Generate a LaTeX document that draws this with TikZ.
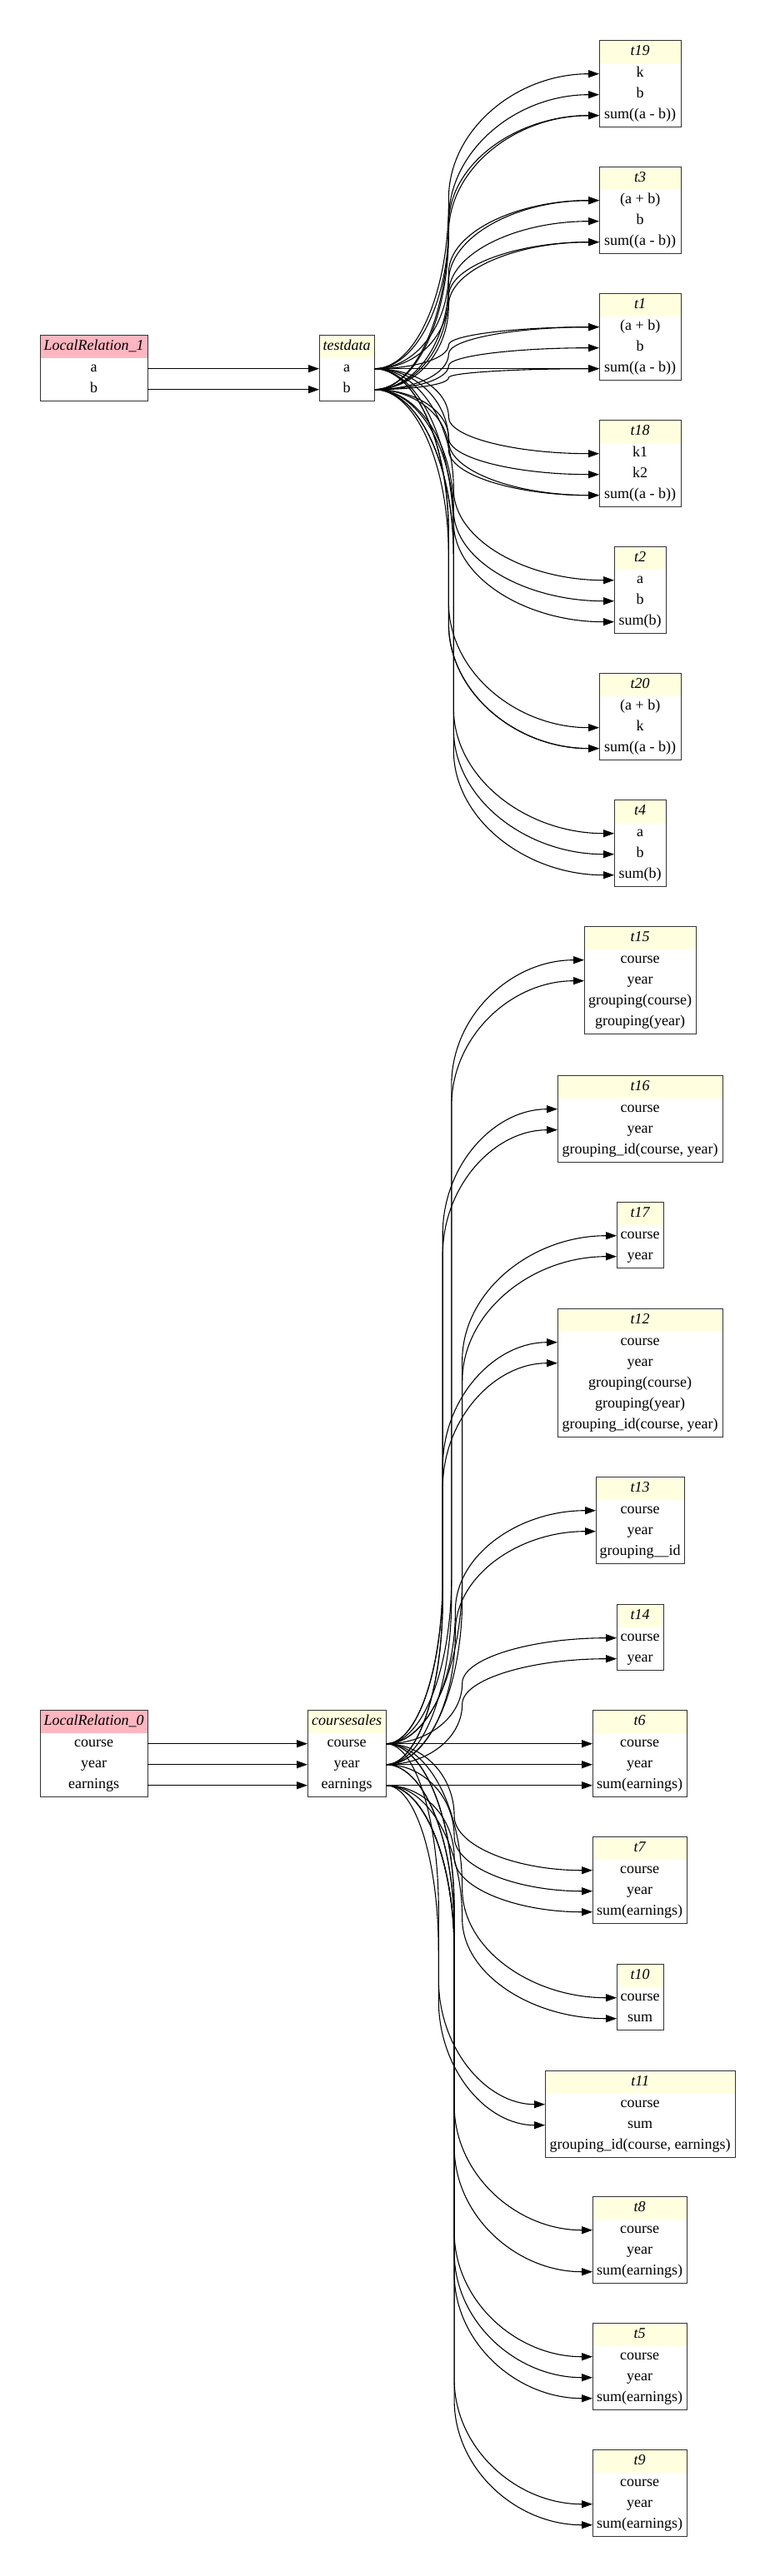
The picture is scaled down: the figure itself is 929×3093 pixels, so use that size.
\documentclass[tikz,border=0pt]{standalone}
\usepackage{fontspec}
\setmainfont{Liberation Serif}
\usetikzlibrary{arrows.meta,calc}
\definecolor{hdryellow}{HTML}{FFFFE0}
\definecolor{hdrpink}{HTML}{FFB6C1}
\tikzset{
  hdr/.style={fill=hdryellow, draw=none, inner sep=0pt, minimum height=28pt,
    font=\fontsize{18pt}{20pt}\selectfont\itshape, text height=12.5pt, text depth=4pt},
  fld/.style={draw=none, inner sep=0pt, minimum height=25pt,
    font=\fontsize{18pt}{20pt}\selectfont, text height=12.5pt, text depth=4pt},
  tbox/.style={draw=black!80, line width=1.2pt, inner sep=0pt, fill=none},
  edge/.style={draw=black, line width=1.1pt, -{Triangle[length=13pt,width=9pt]}},
}
\newcommand\mktable[8][hdryellow]{%
  \node[hdr, fill=#1, minimum width=#5pt, anchor=north west] (#2-h) at (#3,#4) {#7};
  \foreach \rr [count=\ii] in {#8} {
    \node[fld, minimum width=#5pt, anchor=north west] (#2-\ii) at (#3,{#4+28+(\ii-1)*25}) {\rr};
  }
  \node[tbox, minimum width=#5pt, minimum height={29+25*#6}, anchor=north west] (#2) at (#3,#4) {};
}
% edge: horizontal exit, quarter-ellipse bend to a vertical run, quarter-ellipse bend into the target
\newcommand\lnk[2]{\draw[edge] let \p1=(#1.east), \p2=(#2.west),
  \n1={\y2-\y1}, \n2={min(200,abs(\n1)*0.5714)}, \n3={min(150,abs(\n1)*0.4286)},
  \n4={(\n1)/max(abs(\n1),0.001)}, \n5={\x1+0.33*(\x2-\x1)} in
  (\p1) .. controls ({\x1+0.552*(\n5-\x1)},\y1) and (\n5,{\y1+\n4*0.448*\n2}) .. (\n5,{\y1+\n4*\n2})
  -- (\n5,{\y2-\n4*\n3})
  .. controls (\n5,{\y2-\n4*0.448*\n3}) and ({\x2-0.552*(\x2-\n5)},\y2) .. (\p2);}
\begin{document}
\begin{tikzpicture}[x=1pt,y=-1pt]
\useasboundingbox (0,0) rectangle (929,3093);
% top group
\mktable[hdrpink]{lr1}{48}{402}{129}{2}{LocalRelation\_1}{a,b}
\mktable{td}{383}{402}{66}{2}{testdata}{a,b}
\mktable{t19}{719}{48}{98}{3}{t19}{k,b,sum((a - b))}
\mktable{t3}{719}{200}{98}{3}{t3}{(a + b),b,sum((a - b))}
\mktable{t1}{719}{352}{98}{3}{t1}{(a + b),b,sum((a - b))}
\mktable{t18}{719}{504}{98}{3}{t18}{k1,k2,sum((a - b))}
\mktable{t2}{737}{656}{62}{3}{t2}{a,b,sum(b)}
\mktable{t20}{719}{808}{98}{3}{t20}{(a + b),k,sum((a - b))}
\mktable{t4}{737}{960}{62}{3}{t4}{a,b,sum(b)}
% bottom group
\mktable[hdrpink]{lr0}{48}{2053}{129}{3}{LocalRelation\_0}{course,year,earnings}
\mktable{cs}{369}{2053}{94}{3}{coursesales}{course,year,earnings}
\mktable{t15}{701}{1112}{134}{4}{t15}{course,year,grouping(course),grouping(year)}
\mktable{t16}{669}{1291}{198}{3}{t16}{course,year,{grouping\_id(course, year)}}
\mktable{t17}{740}{1443}{56}{2}{t17}{course,year}
\mktable{t12}{669}{1571}{198}{5}{t12}{course,year,grouping(course),grouping(year),{grouping\_id(course, year)}}
\mktable{t13}{715}{1773}{106}{3}{t13}{course,year,grouping\_\_id}
\mktable{t14}{740}{1926}{56}{2}{t14}{course,year}
\mktable{t6}{711}{2053}{113}{3}{t6}{course,year,sum(earnings)}
\mktable{t7}{711}{2205}{113}{3}{t7}{course,year,sum(earnings)}
\mktable{t10}{740}{2358}{56}{2}{t10}{course,sum}
\mktable{t11}{654}{2486}{228}{3}{t11}{course,sum,{grouping\_id(course, earnings)}}
\mktable{t8}{711}{2637}{113}{3}{t8}{course,year,sum(earnings)}
\mktable{t5}{711}{2789}{113}{3}{t5}{course,year,sum(earnings)}
\mktable{t9}{711}{2941}{113}{3}{t9}{course,year,sum(earnings)}
% edges top
\draw[edge] (lr1-1.east) -- (td-1.west);
\draw[edge] (lr1-2.east) -- (td-2.west);
\lnk{td-1}{t19-1}\lnk{td-2}{t19-2}\lnk{td-1}{t19-3}\lnk{td-2}{t19-3}
\lnk{td-1}{t3-1}\lnk{td-2}{t3-1}\lnk{td-2}{t3-2}\lnk{td-1}{t3-3}\lnk{td-2}{t3-3}
\lnk{td-1}{t1-1}\lnk{td-2}{t1-1}\lnk{td-2}{t1-2}\lnk{td-1}{t1-3}\lnk{td-2}{t1-3}
\lnk{td-1}{t18-1}\lnk{td-2}{t18-2}\lnk{td-1}{t18-3}\lnk{td-2}{t18-3}
\lnk{td-1}{t2-1}\lnk{td-2}{t2-2}\lnk{td-2}{t2-3}
\lnk{td-1}{t20-2}\lnk{td-1}{t20-3}\lnk{td-2}{t20-3}
\lnk{td-1}{t4-1}\lnk{td-2}{t4-2}\lnk{td-2}{t4-3}
% edges bottom
\draw[edge] (lr0-1.east) -- (cs-1.west);
\draw[edge] (lr0-2.east) -- (cs-2.west);
\draw[edge] (lr0-3.east) -- (cs-3.west);
\lnk{cs-1}{t15-1}\lnk{cs-2}{t15-2}
\lnk{cs-1}{t16-1}\lnk{cs-2}{t16-2}
\lnk{cs-1}{t17-1}\lnk{cs-2}{t17-2}
\lnk{cs-1}{t12-1}\lnk{cs-2}{t12-2}
\lnk{cs-1}{t13-1}\lnk{cs-2}{t13-2}
\lnk{cs-1}{t14-1}\lnk{cs-2}{t14-2}
\lnk{cs-1}{t6-1}\lnk{cs-2}{t6-2}\lnk{cs-3}{t6-3}
\lnk{cs-1}{t7-1}\lnk{cs-2}{t7-2}\lnk{cs-3}{t7-3}
\lnk{cs-1}{t10-1}\lnk{cs-3}{t10-2}
\lnk{cs-1}{t11-1}\lnk{cs-3}{t11-2}
\lnk{cs-1}{t8-1}\lnk{cs-3}{t8-3}
\lnk{cs-1}{t5-1}\lnk{cs-2}{t5-2}\lnk{cs-3}{t5-3}
\lnk{cs-2}{t9-2}\lnk{cs-3}{t9-3}
\end{tikzpicture}
\end{document}
